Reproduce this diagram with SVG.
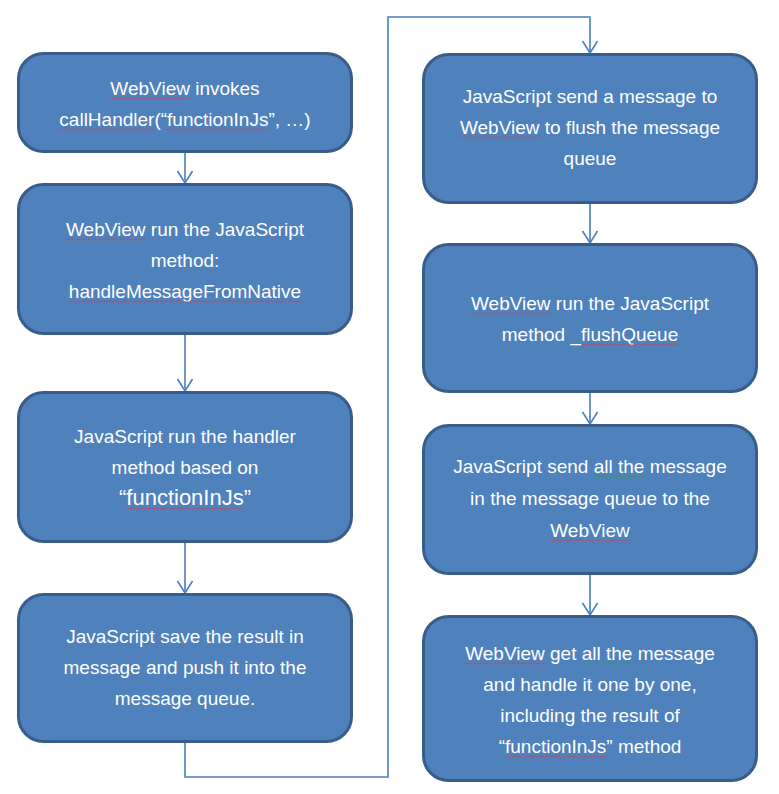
<svg xmlns="http://www.w3.org/2000/svg" width="779" height="794" viewBox="0 0 779 794">
<style>
.box{fill:#4F81BD;stroke:#385D8A;stroke-width:3}
.t{fill:#FFFFFF;font-family:"Liberation Sans",Arial,sans-serif;font-size:19px;text-anchor:middle}
.big{font-size:22px}
.conn{fill:none;stroke:#4A7EBB;stroke-width:1.6}
.sr{fill:url(#wavyRed)}
.sg{fill:url(#wavyGreen)}
</style>
<defs>
<marker id="arr" viewBox="-14 -9 16 18" markerWidth="16" markerHeight="18" refX="0" refY="0" orient="auto" markerUnits="userSpaceOnUse">
<path d="M-12,-7.5 L0,0 L-12,7.5" fill="none" stroke="#4A7EBB" stroke-width="1.6"/>
</marker>
<pattern id="wavyRed" width="4" height="3" patternUnits="userSpaceOnUse">
<path d="M0,2.3 L2,0.7 L4,2.3" fill="none" stroke="#D04050" stroke-width="0.8"/>
</pattern>
<pattern id="wavyGreen" width="4" height="3" patternUnits="userSpaceOnUse">
<path d="M0,2.3 L2,0.7 L4,2.3" fill="none" stroke="#3A9A4A" stroke-width="0.8"/>
</pattern>
</defs>

<g id="connectors">
<path class="conn" d="M185,153 L185,183" marker-end="url(#arr)"/>
<path class="conn" d="M185,335 L185,391" marker-end="url(#arr)"/>
<path class="conn" d="M185,543 L185,593" marker-end="url(#arr)"/>
<path class="conn" d="M185,743 L185,777 L388,777 L388,17 L590,17 L590,53" marker-end="url(#arr)"/>
<path class="conn" d="M590,204 L590,243" marker-end="url(#arr)"/>
<path class="conn" d="M590,393 L590,424" marker-end="url(#arr)"/>
<path class="conn" d="M590,575 L590,615" marker-end="url(#arr)"/>
</g>

<g id="node1">
<rect class="box" x="18.5" y="53.5" width="333" height="98" rx="25"/>
<text class="t" x="185" y="95">WebView invokes</text>
<text class="t" x="185" y="126">callHandler(“functionInJs”, …)</text>
<rect class="sr" width="80" height="3" transform="translate(110,97)"/>
<rect class="sr" width="95" height="3" transform="translate(59,128)"/>
<rect class="sr" width="101" height="3" transform="translate(167,128)"/>
</g>

<g id="node2">
<rect class="box" x="18.5" y="184.5" width="333" height="149" rx="25"/>
<text class="t" x="185" y="236">WebView run the JavaScript</text>
<text class="t" x="185" y="267">method:</text>
<text class="t" x="185" y="298">handleMessageFromNative</text>
<rect class="sr" width="80" height="3" transform="translate(66,238)"/>
<rect class="sr" width="232" height="3" transform="translate(69,300)"/>
</g>

<g id="node3">
<rect class="box" x="18.5" y="392.5" width="333" height="149" rx="25"/>
<text class="t" x="185" y="443">JavaScript run the handler</text>
<text class="t" x="185" y="474">method based on</text>
<text class="t big" x="185" y="505">“functionInJs”</text>
<rect class="sr" width="117" height="3" transform="translate(126,507)"/>
</g>

<g id="node4">
<rect class="box" x="18.5" y="594.5" width="333" height="147" rx="25"/>
<text class="t" x="185" y="643">JavaScript save the result in</text>
<text class="t" x="185" y="674">message and push it into the</text>
<text class="t" x="185" y="705">message queue.</text>
</g>

<g id="node5">
<rect class="box" x="423.5" y="54.5" width="333" height="148" rx="25"/>
<text class="t" x="590" y="103">JavaScript send a message to</text>
<text class="t" x="590" y="134">WebView to flush the message</text>
<text class="t" x="590" y="165">queue</text>
<rect class="sr" width="80" height="3" transform="translate(460,136)"/>
</g>

<g id="node6">
<rect class="box" x="423.5" y="244.5" width="333" height="147" rx="25"/>
<text class="t" x="590" y="310">WebView run the JavaScript</text>
<text class="t" x="590" y="341">method _flushQueue</text>
<rect class="sr" width="80" height="3" transform="translate(471,312)"/>
<rect class="sr" width="97" height="3" transform="translate(581,343)"/>
</g>

<g id="node7">
<rect class="box" x="423.5" y="425.5" width="333" height="148" rx="25"/>
<text class="t" x="590" y="473">JavaScript send all the message</text>
<text class="t" x="590" y="505">in the message queue to the</text>
<text class="t" x="590" y="537">WebView</text>
<rect class="sg" width="51" height="3" transform="translate(594,475)"/>
<rect class="sr" width="80" height="3" transform="translate(550,539)"/>
</g>

<g id="node8">
<rect class="box" x="423.5" y="616.5" width="333" height="164" rx="25"/>
<text class="t" x="590" y="660">WebView get all the message</text>
<text class="t" x="590" y="691">and handle it one by one,</text>
<text class="t" x="590" y="722">including the result of</text>
<text class="t" x="590" y="753">“functionInJs” method</text>
<rect class="sr" width="80" height="3" transform="translate(465,662)"/>
<rect class="sg" width="51" height="3" transform="translate(582,662)"/>
<rect class="sr" width="101" height="3" transform="translate(505,755)"/>
</g>
</svg>
